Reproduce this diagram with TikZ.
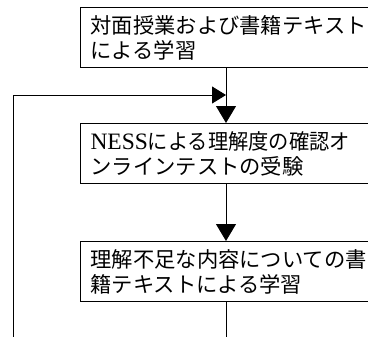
\documentclass[tikz,border=0pt]{standalone}
\usepackage{fontspec}
\setmainfont{Liberation Serif}
\newfontfamily\cjk{Noto Sans CJK JP}
\newfontfamily\cjknarrow[FakeStretch=0.95]{Noto Sans CJK JP}
\usetikzlibrary{arrows.meta}
\begin{document}
\begin{tikzpicture}[x=1bp,y=-1bp,
  box/.style={draw,line width=1bp,anchor=north west,minimum width=310bp,minimum height=60bp,
    text width=290bp,inner xsep=10bp,align=left,font=\fontsize{21.3bp}{25bp}\selectfont},
  conn/.style={line width=1bp},
  downtip/.style={-{Triangle[width=20bp,length=17bp]}},
  sidetip/.style={-{Triangle[width=17bp,length=14bp]}}]
\useasboundingbox (0,0) rectangle (368,337);
\clip (0,0) rectangle (368,337);
\node[box] (b1) at (80,7) {{\cjk 対面授業および書籍テキスト}\\{\cjk による学習}};
\node[box] (b2) at (80,123) {{\fontsize{23.5bp}{25bp}\selectfont NESS}{\cjknarrow による理解度の確認オ}\\{\cjk ンラインテストの受験}};
\node[box] (b3) at (80,241) {{\cjk 理解不足な内容についての書}\\{\cjk 籍テキストによる学習}};
\coordinate (join) at (226,95);
\coordinate (bot) at (226,340);
\coordinate (lbot) at (13,340);
\draw[conn,downtip] (b1.south -| join) -- (b2.north -| join);
\draw[conn,downtip] (b2.south -| join) -- (b3.north -| join);
\draw[conn] (b3.south -| join) -- (bot);
\draw[conn,sidetip] (lbot) |- (join);
\end{tikzpicture}
\end{document}
